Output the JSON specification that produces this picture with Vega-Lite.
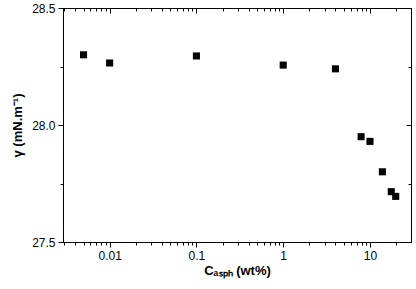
{
  "$schema": "https://vega.github.io/schema/vega-lite/v6.json",
  "width": 348,
  "height": 234,
  "autosize": "none",
  "padding": {"left": 63, "top": 8, "right": 5, "bottom": 47},
  "background": "white",
  "config": {
    "view": {"stroke": "black", "strokeWidth": 1},
    "axis": {"labelFont": "Liberation Sans", "titleFont": "Liberation Sans", "labelColor": "black", "titleColor": "black", "domainColor": "black", "tickColor": "black", "grid": false, "labelFontSize": 12, "titleFontSize": 13, "titleFontWeight": "bold"}
  },
  "data": {"values": [
    {"c": 0.005, "gamma": 28.30},
    {"c": 0.01, "gamma": 28.265},
    {"c": 0.1, "gamma": 28.295},
    {"c": 1, "gamma": 28.256},
    {"c": 4, "gamma": 28.24},
    {"c": 7.9, "gamma": 27.95},
    {"c": 10, "gamma": 27.93},
    {"c": 13.9, "gamma": 27.80},
    {"c": 17.6, "gamma": 27.715},
    {"c": 19.8, "gamma": 27.695}
  ]},
  "layer": [
    {
      "mark": {"type": "square", "size": 50, "color": "black", "opacity": 1},
      "encoding": {
        "x": {"field": "c", "type": "quantitative",
          "scale": {"type": "log", "domain": [0.0029, 29.7], "nice": false},
          "axis": {"orient": "bottom", "title": "Cₐₛₚₕ (wt%)", "titlePadding": 3,
            "values": [0.003,0.004,0.005,0.006,0.007,0.008,0.009,0.01,0.02,0.03,0.04,0.05,0.06,0.07,0.08,0.09,0.1,0.2,0.3,0.4,0.5,0.6,0.7,0.8,0.9,1,2,3,4,5,6,7,8,9,10,20],
            "format": "~g",
            "labelExpr": "indexof([0.01,0.1,1,10], datum.value) >= 0 ? datum.label : ''",
            "tickSize": {"condition": {"test": "indexof([0.01,0.1,1,10], datum.value) >= 0", "value": 5}, "value": 3},
            "labelPadding": 3, "labelFlush": false, "labelOverlap": false}},
        "y": {"field": "gamma", "type": "quantitative",
          "scale": {"domain": [27.5, 28.5], "nice": false, "zero": false},
          "axis": {"orient": "left", "title": "γ (mN.m⁻¹)", "titlePadding": 7,
            "values": [27.5, 27.75, 28, 28.25, 28.5],
            "format": ".1f",
            "labelExpr": "datum.value == 27.75 || datum.value == 28.25 ? '' : datum.label",
            "tickSize": {"condition": {"test": "datum.value == 27.75 || datum.value == 28.25", "value": 3}, "value": 5},
            "labelPadding": 3}}
      }
    },
    {
      "mark": {"type": "square", "size": 50, "color": "black", "opacity": 0},
      "encoding": {
        "x": {"field": "c", "type": "quantitative",
          "scale": {"type": "log", "domain": [0.0029, 29.7], "nice": false},
          "axis": {"orient": "top", "title": null, "labels": false,
            "values": [0.003,0.004,0.005,0.006,0.007,0.008,0.009,0.01,0.02,0.03,0.04,0.05,0.06,0.07,0.08,0.09,0.1,0.2,0.3,0.4,0.5,0.6,0.7,0.8,0.9,1,2,3,4,5,6,7,8,9,10,20],
            "tickSize": {"condition": {"test": "indexof([0.01,0.1,1,10], datum.value) >= 0", "value": -5}, "value": -3}}},
        "y": {"field": "gamma", "type": "quantitative",
          "scale": {"domain": [27.5, 28.5], "nice": false, "zero": false},
          "axis": {"orient": "right", "title": null, "labels": false,
            "values": [27.5, 27.75, 28, 28.25, 28.5],
            "tickSize": {"condition": {"test": "datum.value == 27.75 || datum.value == 28.25", "value": -3}, "value": -5}}}
      }
    }
  ],
  "resolve": {"axis": {"x": "independent", "y": "independent"}}
}
